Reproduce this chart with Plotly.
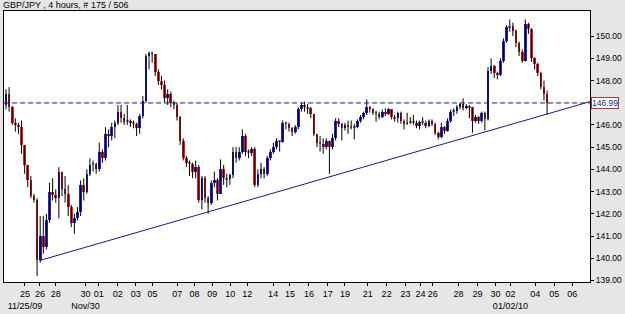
import plotly.graph_objects as go

# ---------------- data ----------------
title_text = "GBP/JPY , 4 hours, # 175 / 506"

first_open = 146.9
closes = [
    147.4, 146.8, 146.1, 146.0, 145.9, 145.1, 144.2, 143.5, 142.8, 142.6,
    139.9, 141.0, 140.5, 141.7, 143.0, 142.85, 142.7, 143.9, 143.1, 142.9,
    142.3, 141.6, 141.8, 142.1, 143.3, 143.0, 143.8, 144.2, 144.25, 144.0,
    144.8, 144.5, 145.6, 145.5, 145.9, 146.1, 146.6, 146.3, 146.15, 146.2,
    146.1, 146.05, 145.85, 146.4, 147.1, 149.1, 149.25, 149.2, 148.4, 148.0,
    147.8, 147.2, 147.4, 147.0, 146.9, 146.35, 145.3, 144.5, 144.3, 144.25,
    143.9, 144.1, 142.6, 143.6, 142.7, 142.5, 143.4, 143.5, 142.9, 144.0,
    143.6, 143.55, 143.75, 144.8, 144.5, 144.8, 145.5, 144.8, 144.75, 144.9,
    143.3, 143.8, 144.0, 143.8, 144.5, 144.8, 145.0, 145.3, 145.25, 146.1,
    146.05, 145.85, 145.7, 145.9, 146.7, 146.9, 146.8, 146.75, 146.5, 145.6,
    145.2, 145.15, 145.0, 145.3, 145.0, 145.4, 146.2, 146.05, 145.85, 146.0,
    145.9, 145.95, 145.9, 146.2, 146.35, 146.55, 146.8, 146.7, 146.55, 146.5,
    146.35, 146.6, 146.5, 146.7, 146.35, 146.3, 146.55, 146.2, 146.05, 146.1,
    146.15, 146.1, 145.95, 146.15, 146.1, 145.95, 146.2, 146.05, 145.65, 145.45,
    145.9, 145.75, 146.2, 146.6, 146.65, 146.8, 146.95, 146.75, 146.85, 146.8,
    146.2, 146.35, 146.2, 146.55, 146.25, 148.45, 148.65, 148.35, 148.25, 148.9,
    149.8, 150.4, 150.45, 150.25, 149.7, 149.3, 148.9, 150.55, 150.3, 149.0,
    148.75, 148.35, 147.7, 147.4, 146.99,
]
highs = [
    147.6, 147.7, 146.85, 146.3, 146.1, 146.2, 145.1, 144.2, 143.7, 142.9,
    142.7, 141.9, 141.9, 142.0, 143.4, 143.6, 143.1, 144.1, 143.9, 143.7,
    143.3, 142.4, 142.0, 142.3, 143.5, 143.6, 144.0, 144.5, 144.4, 144.3,
    145.2, 144.9, 145.9, 145.8, 146.1, 146.2, 146.9, 146.9, 146.5, 146.9,
    146.25, 146.2, 146.1, 146.5, 147.3, 149.2, 149.3, 149.3, 149.2, 148.5,
    148.2, 148.0, 147.6, 147.5, 147.1, 147.0, 146.4, 145.4, 144.6, 144.4,
    144.3, 144.4, 144.2, 143.7, 143.7, 142.8, 143.5, 143.9, 143.6, 144.45,
    144.2, 143.8, 143.8, 145.0, 145.0, 145.0, 145.8, 145.6, 144.9, 145.0,
    145.0, 144.0, 144.3, 144.1, 144.6, 144.9, 145.2, 145.4, 145.3, 146.2,
    146.15, 146.1, 145.9, 146.0, 146.8, 147.0, 147.05, 146.95, 146.8, 146.5,
    145.6, 145.5, 145.4, 145.4, 145.3, 145.6, 146.3, 146.3, 146.1, 146.1,
    146.2, 146.2, 146.05, 146.25, 146.45, 146.6, 147.15, 146.85, 146.75, 146.65,
    146.6, 146.7, 146.75, 146.75, 146.7, 146.45, 146.6, 146.6, 146.25, 146.55,
    146.35, 146.45, 146.2, 146.2, 146.35, 146.2, 146.25, 146.25, 146.1, 145.7,
    146.1, 145.95, 146.3, 146.7, 146.75, 146.9, 147.0, 147.2, 146.95, 146.9,
    146.8, 146.45, 146.4, 146.6, 146.6, 148.6, 149.0, 148.7, 148.4, 149.0,
    149.9, 150.5, 150.75, 150.6, 150.3, 149.75, 149.4, 150.75, 150.6, 150.35,
    149.05, 148.8, 148.4, 148.0, 147.55,
]
lows = [
    146.7, 146.6, 146.0, 145.7, 145.6, 144.7, 143.8, 143.2, 142.7, 142.5,
    139.2, 139.8, 140.2, 140.4, 141.6, 142.6, 142.5, 141.8, 142.8, 142.5,
    141.9, 141.4, 141.1, 141.7, 141.9, 142.6, 142.9, 143.7, 143.9, 143.8,
    143.9, 144.3, 144.4, 145.0, 145.3, 145.4, 146.0, 146.1, 146.0, 146.0,
    145.9, 145.85, 145.5, 145.6, 146.3, 147.0, 148.5, 148.8, 148.2, 147.8,
    147.6, 147.0, 146.9, 146.8, 146.7, 146.2, 145.1, 144.4, 144.1, 143.7,
    143.6, 143.6, 142.5, 142.2, 142.5, 142.0, 142.4, 143.2, 142.6, 142.9,
    143.3, 143.2, 143.3, 143.6, 144.3, 144.4, 144.7, 144.6, 144.5, 144.6,
    143.2, 143.2, 143.6, 143.6, 143.7, 144.4, 144.7, 144.9, 144.8, 145.2,
    145.8, 145.7, 145.5, 145.6, 145.8, 146.6, 146.6, 146.5, 146.3, 145.5,
    145.0, 144.8, 144.7, 144.9, 143.8, 144.9, 145.3, 145.9, 145.3, 145.75,
    145.6, 145.8, 145.35, 145.85, 146.1, 146.25, 146.45, 146.55, 146.45, 146.15,
    146.25, 146.3, 146.4, 146.45, 146.25, 146.15, 146.1, 146.05, 145.8, 146.0,
    146.05, 146.0, 145.85, 145.8, 146.0, 145.85, 145.9, 145.95, 145.55, 145.35,
    145.4, 145.6, 145.7, 146.1, 146.4, 146.5, 146.7, 146.65, 146.7, 146.3,
    145.65, 146.1, 146.05, 146.1, 145.75, 146.2, 148.3, 148.1, 148.05, 148.2,
    148.8, 149.7, 150.2, 150.0, 149.5, 149.1, 148.8, 148.85, 150.1, 148.85,
    148.5, 148.2, 147.6, 147.1, 146.45,
]
opens = [first_open] + closes[:-1]
bar_index = list(range(len(closes)))

# trend line anchors (bar index, price)
trend_x = [10.9, 187.8]
trend_y = [139.9, 147.05]

# x-axis labels
tick_pos = [6.1, 10.9, 16, 25.6, 29.8, 35.9, 41.7, 47.1, 55.1, 60.6, 66.3, 72.1,
            77.6, 85.9, 91.3, 97.4, 103.5, 109, 116.3, 122.4, 128.5, 133.3,
            137.2, 145.5, 151.6, 157.4, 162.2, 170.2, 176.3, 182.1]
tick_day = ["25", "26", "28", "30", "01", "02", "03", "05", "07", "08", "09", "10",
            "12", "14", "15", "16", "17", "19", "21", "22", "23", "24",
            "26", "28", "29", "30", "02", "04", "05", "06"]
tick_sub = {0: "11/25/09", 3: "Nov/30", 26: "01/02/10"}

y_ticks = [139, 140, 141, 142, 143, 144, 145, 146, 148, 149, 150]

# ---------------- styling ----------------
BLUE = "#2424c8"
RED = "#d42828"
GRAY = "#909090"
NAVY = "#1a1a80"
FONT = "Liberation Sans"

body_base = [min(o, c) for o, c in zip(opens, closes)]
body_h = [max(abs(c - o), 0.04) for o, c in zip(opens, closes)]
body_col = [GRAY if abs(c - o) < 0.06 else (BLUE if c > o else RED)
            for o, c in zip(opens, closes)]

wx, wy = [], []
for i, h, l in zip(bar_index, highs, lows):
    wx += [i, i, None]
    wy += [l, h, None]

fig = go.Figure()
fig.add_trace(go.Scatter(x=wx, y=wy, mode="lines",
                         line=dict(color="black", width=1), hoverinfo="skip"))
fig.add_trace(go.Bar(x=bar_index, y=body_h, base=body_base, width=0.85,
                     marker=dict(color=body_col, line=dict(width=0))))
fig.add_trace(go.Scatter(x=trend_x, y=trend_y, mode="lines",
                         line=dict(color=NAVY, width=1)))

last = closes[-1]
fig.add_shape(type="line", xref="paper", x0=0, x1=1, yref="y", y0=last, y1=last,
              line=dict(color=NAVY, width=1, dash="5px,3px"))

ticktext = [d + ("<br>" + tick_sub[k] if k in tick_sub else "<br> ")
            for k, d in enumerate(tick_day)]

fig.update_layout(
    width=625, height=314,
    margin=dict(l=3, r=34, t=11, b=25),
    paper_bgcolor="#e6e6e6", plot_bgcolor="white",
    showlegend=False, bargap=0,
    font=dict(family=FONT, size=9, color="black"),
    xaxis=dict(range=[-0.64, 187.8], showgrid=False, zeroline=False,
               showline=True, mirror=True, linecolor="black", linewidth=1,
               ticks="outside", ticklen=3, tickcolor="black", tickangle=0,
               tickvals=tick_pos, ticktext=ticktext,
               tickfont=dict(family=FONT, size=9)),
    yaxis=dict(range=[138.93, 151.13], side="right", showgrid=False,
               zeroline=False, showline=True, mirror=True, linecolor="black",
               linewidth=1, ticks="outside", ticklen=3, tickcolor="black",
               tickvals=y_ticks, ticktext=[f"{v:.2f}" for v in y_ticks],
               tickfont=dict(family=FONT, size=8.5)),
    annotations=[
        dict(text=title_text, xref="paper", yref="paper", x=0, y=1,
             xanchor="left", yanchor="middle", xshift=-3, yshift=6,
             showarrow=False, font=dict(family=FONT, size=9, color="black")),
        dict(text=f"{last:.2f}", xref="paper", yref="y", x=1, y=last,
             xanchor="left", yanchor="middle", xshift=1, showarrow=False,
             bgcolor="white", bordercolor="#b03838", borderwidth=1, borderpad=0,
             font=dict(family=FONT, size=8.5, color="#202090")),
    ],
)

fig.write_html("out.html")
